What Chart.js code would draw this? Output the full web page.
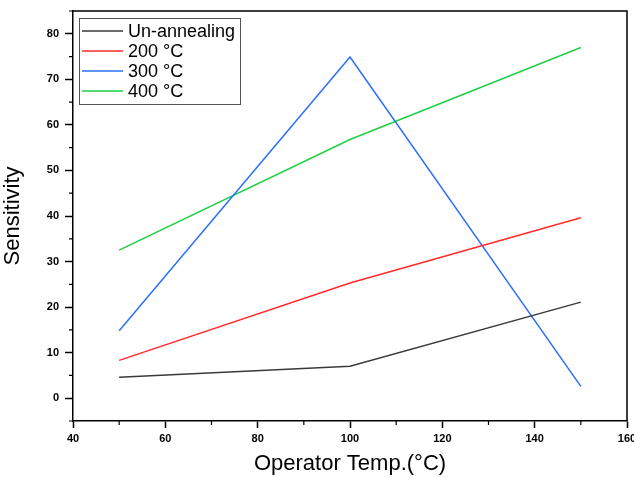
<!DOCTYPE html>
<html>
<head>
<meta charset="utf-8">
<script src="https://cdn.jsdelivr.net/npm/chart.js@4.4.1/dist/chart.umd.min.js"></script>
<style>
  html, body { margin: 0; padding: 0; background: #fff; }
  #wrap { position: relative; width: 634px; height: 477px; }
</style>
</head>
<body>
<div id="wrap"><canvas id="sensChart"></canvas></div>
<script>
(function(){
    // values
    const temps = [50, 100, 150];
    const unAnnealing = [4.6, 7.0, 21.1];
    const anneal200 = [8.3, 25.3, 39.6];
    const anneal300 = [14.8, 74.9, 2.6];
    const anneal400 = [32.5, 56.8, 77.0];
    const seriesNames = ['Un-annealing', '200 \u00B0C', '300 \u00B0C', '400 \u00B0C'];
    const seriesColors = ['#3a3a3a', '#ff2a2a', '#2a6fff', '#1ecf45'];

    const allSeries = [unAnnealing, anneal200, anneal300, anneal400];

    // minor ticks (short) plus the frame top/right and the legend box
    const framePlugin = {
        id: 'frame',
        afterDraw(chart) {
            const c = chart.ctx, a = chart.chartArea;
            const xs = chart.scales.x, ys = chart.scales.y;
            c.save();
            c.strokeStyle = '#000';
            c.lineWidth = 1.5;
            c.beginPath();
            c.moveTo(a.left, a.top); c.lineTo(a.right, a.top); c.lineTo(a.right, a.bottom);
            c.stroke();
            // minor ticks
            c.lineWidth = 1.2;
            c.beginPath();
            for (let v = 50; v < 160; v += 20) {
                const px = xs.getPixelForValue(v);
                c.moveTo(px, a.bottom); c.lineTo(px, a.bottom + 4);
            }
            for (let v = -5; v <= 85; v += 10) {
                const py = ys.getPixelForValue(v);
                c.moveTo(a.left, py); c.lineTo(a.left - 4, py);
            }
            c.stroke();
            // legend
            const lx = a.left + 6, ly = a.top + 7, lw = 161, lh = 86;
            c.fillStyle = '#fff';
            c.fillRect(lx, ly, lw, lh);
            c.strokeStyle = '#555';
            c.lineWidth = 1;
            c.strokeRect(lx + 0.5, ly + 0.5, lw, lh);
            c.font = '18px Arial, "Liberation Sans", sans-serif';
            c.textBaseline = 'middle';
            chart.data.datasets.forEach((ds, i) => {
                const y = ly + 13 + i * 20;
                c.strokeStyle = ds.borderColor;
                c.lineWidth = 1.5;
                c.beginPath();
                c.moveTo(lx + 3, y); c.lineTo(lx + 44, y);
                c.stroke();
                c.fillStyle = '#000';
                c.fillText(ds.label, lx + 49, y + 1);
            });
            c.restore();
        }
    };

    const tickFont = { family: 'Arial, "Liberation Sans", sans-serif', size: 11, weight: 'bold' };
    const titleFont = { family: 'Arial, "Liberation Sans", sans-serif', size: 22 };

    new Chart(document.getElementById('sensChart'), {
        type: 'line',
        data: {
            labels: temps,
            datasets: allSeries.map((vals, i) => ({
                label: seriesNames[i],
                data: temps.map((t, j) => ({ x: t, y: vals[j] })),
                borderColor: seriesColors[i],
                backgroundColor: seriesColors[i],
                borderWidth: 1.5,
                pointRadius: 0,
                tension: 0,
                fill: false
            }))
        },
        options: {
            responsive: true,
            maintainAspectRatio: false,
            animation: false,
            layout: { padding: { top: 11, right: 7, left: 0, bottom: 0 } },
            plugins: { legend: { display: false }, tooltip: { enabled: false } },
            scales: {
                x: {
                    type: 'linear',
                    min: 40, max: 160,
                    afterFit(s) { s.height = 56; s.paddingLeft = 0; s.paddingRight = 0; },
                    ticks: { stepSize: 20, color: '#000', font: tickFont, padding: 4, maxRotation: 0 },
                    grid: { drawOnChartArea: false, tickLength: 7, tickColor: '#000', tickWidth: 1.5 },
                    border: { color: '#000', width: 1.5 },
                    title: { display: true, text: 'Operator Temp.(\u00B0C)', color: '#000', font: titleFont, padding: { top: 4, bottom: 0 } }
                },
                y: {
                    min: -5, max: 85,
                    afterFit(s) { s.width = 73; s.paddingTop = 0; s.paddingBottom = 0; },
                    afterBuildTicks(s) { s.ticks = s.ticks.filter(t => t.value % 10 === 0); },
                    ticks: { stepSize: 5, color: '#000', font: tickFont, padding: 6 },
                    grid: { drawOnChartArea: false, tickLength: 8, tickColor: '#000', tickWidth: 1.5 },
                    border: { color: '#000', width: 1.5 },
                    title: { display: true, text: 'Sensitivity', color: '#000', font: titleFont, padding: { top: 0, bottom: 14 } }
                }
            }
        },
        plugins: [framePlugin]
    });
})();
</script>
</body>
</html>
